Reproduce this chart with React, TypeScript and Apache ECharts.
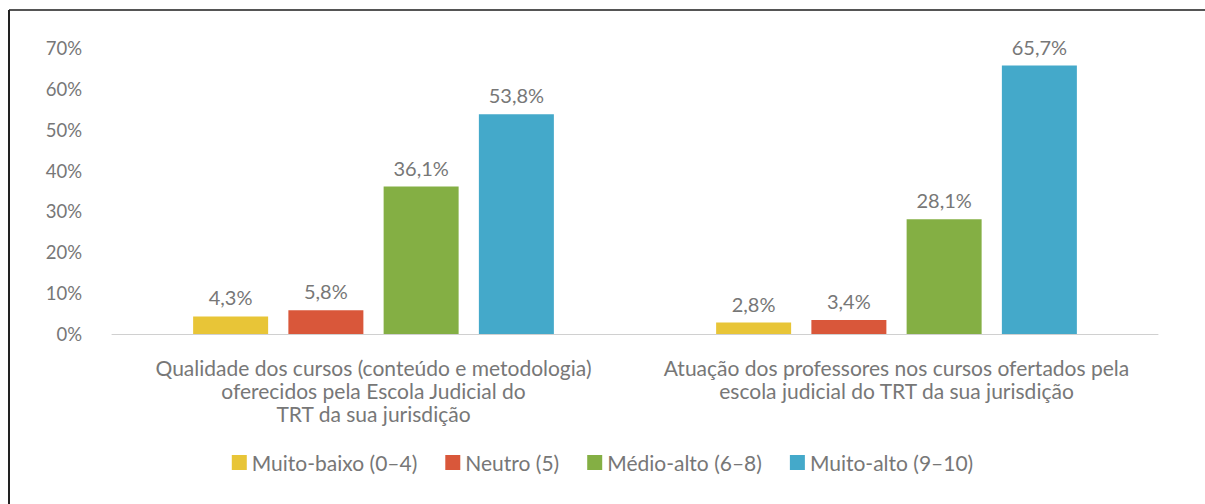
import React, { useEffect, useRef } from "react";
import * as echarts from "echarts";

const categories = [
  "Qualidade dos cursos (conteúdo e metodologia)\noferecidos pela Escola Judicial do\nTRT da sua jurisdição",
  "Atuação dos professores nos cursos ofertados pela\nescola judicial do TRT da sua jurisdição",
];
const seriesNames = ["Muito-baixo (0–4)", "Neutro (5)", "Médio-alto (6–8)", "Muito-alto (9–10)"];
const muitoBaixo = [4.3, 2.8];
const neutro = [5.8, 3.4];
const medioAlto = [36.1, 28.1];
const muitoAlto = [53.8, 65.7];
const colors = ["#E8C537", "#D9573A", "#84AF44", "#44A9CA"];

const FONT = "Lato";

export default function App() {
  const ref = useRef<HTMLDivElement>(null);
  useEffect(() => {
    if (!ref.current) return;
    const chart = echarts.init(ref.current, null, { renderer: "svg" });
    const values = [muitoBaixo, neutro, medioAlto, muitoAlto];
    chart.setOption({
      animation: false,
      textStyle: { fontFamily: FONT },
      graphic: [
        { type: "line", shape: { x1: 9, y1: 10, x2: 1205, y2: 10 }, style: { stroke: "#555", lineWidth: 2 } },
        { type: "line", shape: { x1: 9, y1: 10, x2: 9, y2: 504 }, style: { stroke: "#222", lineWidth: 2 } },
      ],
      grid: { left: 112, right: 47, top: 48, bottom: 170 },
      legend: {
        top: 447,
        left: "center",
        itemWidth: 15,
        itemHeight: 15,
        itemGap: 28,
        icon: "rect",
        textStyle: { fontSize: 21, color: "#777", fontFamily: FONT },
        data: seriesNames,
      },
      xAxis: {
        type: "category",
        data: categories,
        axisLine: { lineStyle: { color: "#D0D0D0", width: 1 } },
        axisTick: { show: false },
        axisLabel: { interval: 0, hideOverlap: false, fontSize: 21, color: "#777", lineHeight: 23, margin: 22, fontFamily: FONT },
      },
      yAxis: {
        type: "value",
        min: 0,
        max: 70,
        interval: 10,
        splitLine: { show: false },
        axisLine: { show: false },
        axisTick: { show: false },
        axisLabel: { formatter: "{value}%", fontSize: 18.5, color: "#777", margin: 30, fontFamily: FONT },
      },
      series: seriesNames.map((name, i) => ({
        name,
        type: "bar",
        data: values[i],
        barWidth: 75,
        barGap: "27%",
        itemStyle: { color: colors[i] },
        label: {
          show: true,
          position: "top",
          distance: 9,
          fontSize: 20,
          color: "#777",
          fontFamily: FONT,
          formatter: (p: any) => String(p.value.toFixed(1)).replace(".", ",") + "%",
        },
      })),
    });
    return () => chart.dispose();
  }, []);
  return <div ref={ref} style={{ position: "fixed", left: 0, top: 0, width: 1205, height: 504, background: "#fff" }} />;
}
